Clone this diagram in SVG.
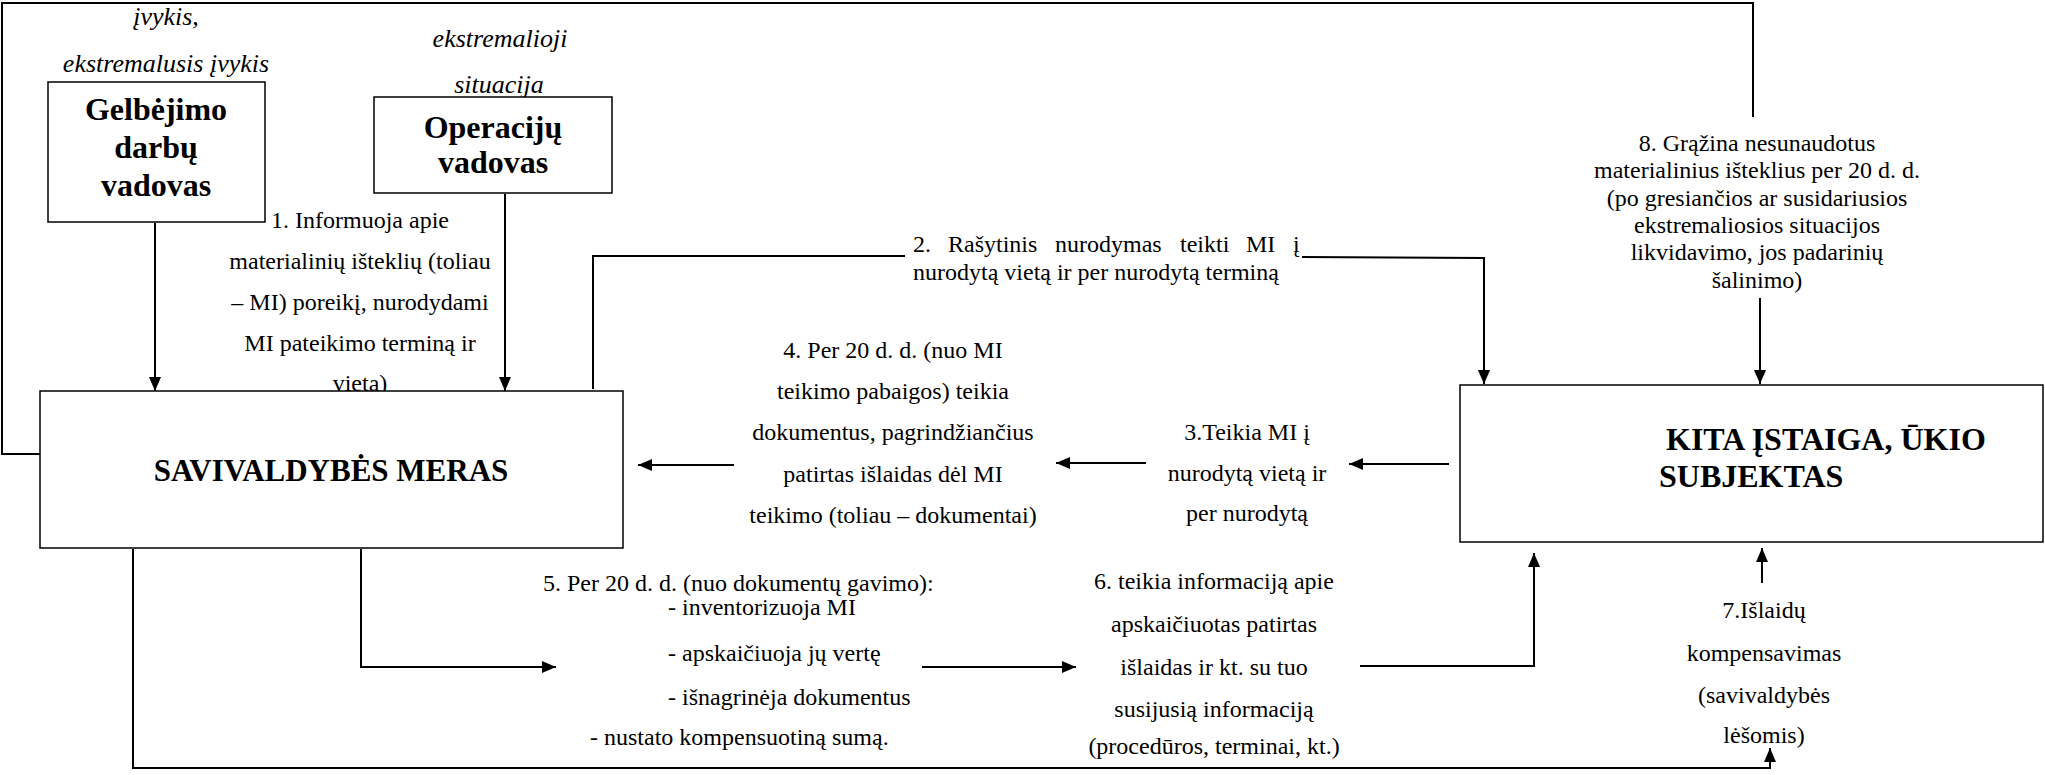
<svg xmlns="http://www.w3.org/2000/svg" width="2045" height="775" viewBox="0 0 2045 775">
<style>
.t{font-family:'Liberation Serif','Times New Roman',serif;font-size:24px;fill:#000}
.c{text-anchor:middle}
.b{font-weight:bold;font-size:32px}
.i{font-style:italic;font-size:26px}
.box{fill:#fff;stroke:#000;stroke-width:1.5}
.ln{fill:none;stroke:#000;stroke-width:2}
</style>
<defs>
<marker id="ah" viewBox="0 0 14 12" refX="14" refY="6" markerWidth="14" markerHeight="12" markerUnits="userSpaceOnUse" orient="auto">
<path d="M0,0 L14,6 L0,12 z" fill="#000"/>
</marker>
</defs>
<rect width="2045" height="775" fill="#fff"/>

<g id="connectors">
<path class="ln" d="M155,223 V391" marker-end="url(#ah)"/>
<path class="ln" d="M505,194 V391" marker-end="url(#ah)"/>
<path class="ln" d="M593,389 V256 H905"/>
<path class="ln" d="M1302,257 L1484,258 V384" marker-end="url(#ah)"/>
<path class="ln" d="M40,454 H2 V3 H1753 V117"/>
<path class="ln" d="M1760,298 V384" marker-end="url(#ah)"/>
<path class="ln" d="M1449,464 H1349" marker-end="url(#ah)"/>
<path class="ln" d="M1146,463 H1056" marker-end="url(#ah)"/>
<path class="ln" d="M734,465 H638" marker-end="url(#ah)"/>
<path class="ln" d="M361,549 V667 H556" marker-end="url(#ah)"/>
<path class="ln" d="M922,667 H1076" marker-end="url(#ah)"/>
<path class="ln" d="M1360,666 H1534 V553" marker-end="url(#ah)"/>
<path class="ln" d="M1762,583 V548" marker-end="url(#ah)"/>
<path class="ln" d="M133,549 V768 H1770 V748" marker-end="url(#ah)"/>
</g>

<g id="lbl-ivykis">
<text class="t i c" x="166" y="25">įvykis,</text>
<text class="t i c" x="166" y="72">ekstremalusis įvykis</text>
</g>
<g id="lbl-es">
<text class="t i c" x="500" y="47">ekstremalioji</text>
<text class="t i c" x="499" y="93">situacija</text>
</g>

<g id="node-gelbejimo">
<rect class="box" x="48" y="82" width="217" height="140"/>
<text class="t b c" x="156" y="120">Gelbėjimo</text>
<text class="t b c" x="156" y="158">darbų</text>
<text class="t b c" x="156" y="196">vadovas</text>
</g>

<g id="node-operaciju">
<rect class="box" x="374" y="97" width="238" height="96"/>
<text class="t b c" x="493" y="138">Operacijų</text>
<text class="t b c" x="493" y="173">vadovas</text>
</g>

<g id="lbl-1">
<text class="t c" x="360" y="228">1. Informuoja apie</text>
<text class="t c" x="360" y="269">materialinių išteklių (toliau</text>
<text class="t c" x="360" y="310">– MI) poreikį, nurodydami</text>
<text class="t c" x="360" y="351">MI pateikimo terminą ir</text>
<text class="t c" x="360" y="391">vietą)</text>
</g>

<g id="node-meras">
<rect class="box" x="40" y="391" width="583" height="157"/>
<text class="t b c" x="331" y="481" style="font-size:31px">SAVIVALDYBĖS MERAS</text>
</g>

<g id="lbl-2">
<text class="t" y="252"><tspan x="913">2.</tspan><tspan x="948">Rašytinis</tspan><tspan x="1055">nurodymas</tspan><tspan x="1180">teikti</tspan><tspan x="1246">MI</tspan><tspan x="1293">į</tspan></text>
<text class="t" x="913" y="280">nurodytą vietą ir per nurodytą terminą</text>
</g>

<g id="lbl-8">
<text class="t c" x="1757" y="151">8. Grąžina nesunaudotus</text>
<text class="t c" x="1757" y="178">materialinius išteklius per 20 d. d.</text>
<text class="t c" x="1757" y="206">(po gresiančios ar susidariusios</text>
<text class="t c" x="1757" y="233">ekstremaliosios situacijos</text>
<text class="t c" x="1757" y="260">likvidavimo, jos padarinių</text>
<text class="t c" x="1757" y="288">šalinimo)</text>
</g>

<g id="node-kita">
<rect class="box" x="1460" y="385" width="583" height="157"/>
<text class="t b" x="1666" y="450">KITA ĮSTAIGA, ŪKIO</text>
<text class="t b" x="1659" y="487">SUBJEKTAS</text>
</g>

<g id="lbl-4">
<text class="t c" x="893" y="358">4. Per 20 d. d. (nuo MI</text>
<text class="t c" x="893" y="399">teikimo pabaigos) teikia</text>
<text class="t c" x="893" y="440">dokumentus, pagrindžiančius</text>
<text class="t c" x="893" y="482">patirtas išlaidas dėl MI</text>
<text class="t c" x="893" y="523">teikimo (toliau – dokumentai)</text>
</g>

<g id="lbl-3">
<text class="t c" x="1247" y="440">3.Teikia MI į</text>
<text class="t c" x="1247" y="481">nurodytą vietą ir</text>
<text class="t c" x="1247" y="521">per nurodytą</text>
</g>

<g id="lbl-5">
<text class="t" x="543" y="591">5. Per 20 d. d. (nuo dokumentų gavimo):</text>
<text class="t" x="668" y="615">- inventorizuoja MI</text>
<text class="t" x="668" y="661">- apskaičiuoja jų vertę</text>
<text class="t" x="668" y="705">- išnagrinėja dokumentus</text>
<text class="t" x="590" y="745">- nustato kompensuotiną sumą.</text>
</g>

<g id="lbl-6">
<text class="t c" x="1214" y="589">6. teikia informaciją apie</text>
<text class="t c" x="1214" y="632">apskaičiuotas patirtas</text>
<text class="t c" x="1214" y="675">išlaidas ir kt. su tuo</text>
<text class="t c" x="1214" y="717">susijusią informaciją</text>
<text class="t c" x="1214" y="754">(procedūros, terminai, kt.)</text>
</g>

<g id="lbl-7">
<text class="t c" x="1764" y="618">7.Išlaidų</text>
<text class="t c" x="1764" y="661">kompensavimas</text>
<text class="t c" x="1764" y="703">(savivaldybės</text>
<text class="t c" x="1764" y="743">lėšomis)</text>
</g>
</svg>
